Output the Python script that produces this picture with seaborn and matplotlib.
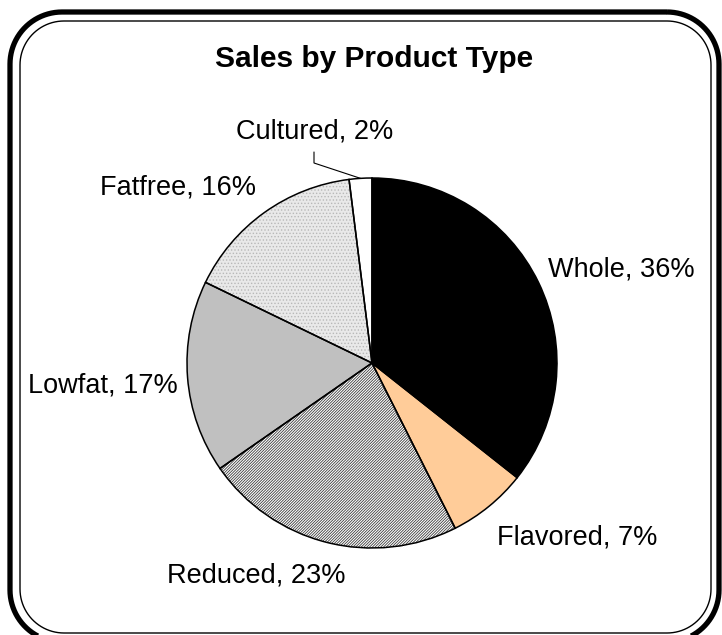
import matplotlib
matplotlib.use('Agg')
import numpy as np
import matplotlib.pyplot as plt
import seaborn as sns
from matplotlib.patches import PathPatch
from matplotlib.path import Path

# ---- data ----
categories = ['Whole', 'Flavored', 'Reduced', 'Lowfat', 'Fatfree', 'Cultured']
shares = [36, 7, 23, 17, 16, 2]
title = 'Sales by Product Type'

# ---- styles ----
face_colors = ['#000000', '#FFCC99', '#FFFFFF', '#C0C0C0', '#E9E9E9', '#FFFFFF']
hatches = ['', '', '////////////', '', '.....', '']
hatch_colors = ['none', 'none', '#3C3C3C', 'none', '#B8B8B8', 'none']
# label anchors in pixels: (center x, baseline y)
label_px = [(621.5, 277), (577.5, 544), (256.5, 582), (102.5, 392), (178.5, 195), (314.5, 139)]

sns.set_theme(style='white')
plt.rcParams['font.family'] = ['Liberation Sans', 'DejaVu Sans']
plt.rcParams['hatch.linewidth'] = 0.6

W, H = 722, 635
fig = plt.figure(figsize=(W / 100, H / 100), dpi=100)
fig.patch.set_facecolor('white')


def rounded_rect(x0, y0, x1, y1, rad, n=24):
    """closed rounded rectangle path in pixel coords (y down)."""
    pts = []
    corners = [(x1 - rad, y0 + rad, -90, 0), (x1 - rad, y1 - rad, 0, 90),
               (x0 + rad, y1 - rad, 90, 180), (x0 + rad, y0 + rad, 180, 270)]
    for ccx, ccy, a0, a1 in corners:
        t = np.deg2rad(np.linspace(a0, a1, n))
        pts.extend(zip(ccx + rad * np.cos(t), ccy + rad * np.sin(t)))
    pts.append(pts[0])
    pts = np.array(pts)
    pts[:, 1] = H - pts[:, 1]
    codes = [Path.MOVETO] + [Path.LINETO] * (len(pts) - 2) + [Path.CLOSEPOLY]
    return Path(pts, codes)


# frame
bg = fig.add_axes([0, 0, 1, 1], zorder=0)
bg.set_xlim(0, W)
bg.set_ylim(0, H)
bg.axis('off')
bg.add_patch(PathPatch(rounded_rect(10, 12, 719, 642, 52), fc='none', ec='black',
                       lw=3.8, joinstyle='round', clip_on=False))
bg.add_patch(PathPatch(rounded_rect(20, 21, 711, 633, 44), fc='none', ec='black',
                       lw=1.0, joinstyle='round', clip_on=False))

# pie
cx, cy, r = 372, 363, 185
ax = fig.add_axes([(cx - r) / W, 1 - (cy + r) / H, 2 * r / W, 2 * r / H], zorder=1)
ax.patch.set_alpha(0)

base, _ = ax.pie(shares, colors=face_colors, startangle=90, counterclock=False,
                 radius=1, wedgeprops=dict(linewidth=0))
hatch_layer, _ = ax.pie(shares, colors=['none'] * len(shares), startangle=90,
                        counterclock=False, radius=1, wedgeprops=dict(linewidth=0))
for w, h, hc in zip(hatch_layer, hatches, hatch_colors):
    w.set_facecolor('none')
    w.set_edgecolor(hc)
    w.set_linewidth(0)
    if h:
        w.set_hatch(h)
    else:
        w.set_visible(False)
outline, _ = ax.pie(shares, startangle=90, counterclock=False, radius=1,
                    wedgeprops=dict(edgecolor='black', linewidth=1.1, fill=False))
for w in list(base) + list(hatch_layer) + list(outline):
    w.set_clip_on(False)
ax.set_xlim(-1, 1)
ax.set_ylim(-1, 1)
ax.axis('off')

# leader line for the smallest slice
wc = outline[-1]
mid = np.deg2rad((wc.theta1 + wc.theta2) / 2)
p_end = (np.cos(mid), np.sin(mid))
elbow = ((314 - cx) / r, (cy - 163) / r)
start = ((314 - cx) / r, (cy - 152) / r)
ax.plot([start[0], elbow[0], p_end[0]], [start[1], elbow[1], p_end[1]],
        color='black', lw=0.8, clip_on=False, solid_joinstyle='miter')

# labels
for c, v, (px, py) in zip(categories, shares, label_px):
    fig.text(px / W, 1 - py / H, f'{c}, {v}%', ha='center', va='baseline',
             fontsize=19.5, color='black')

fig.text(374.5 / W, 1 - 67 / H, title, ha='center', va='baseline',
         fontsize=21.5, fontweight='bold', color='black')

fig.savefig('out.png', dpi=100)
